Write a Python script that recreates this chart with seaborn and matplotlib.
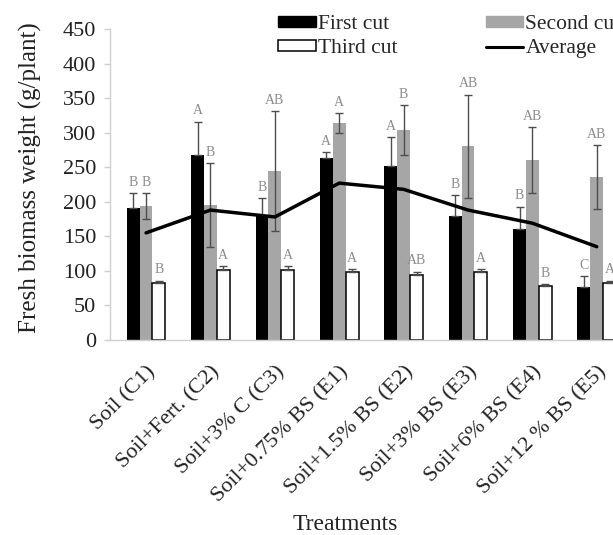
import numpy as np
import pandas as pd
import matplotlib
matplotlib.use("Agg")
import matplotlib.pyplot as plt
from matplotlib.patches import Patch
from matplotlib.lines import Line2D
import seaborn as sns

# Treatments and fresh biomass weight (g/plant) per cut
treatments = ["Soil (C1)", "Soil+Fert. (C2)", "Soil+3% C (C3)", "Soil+0.75% BS (E1)",
              "Soil+1.5% BS (E2)", "Soil+3% BS (E3)", "Soil+6% BS (E4)", "Soil+12 % BS (E5)"]
cuts = ["First cut", "Second cut", "Third cut"]

first_cut = [191, 268, 181, 263, 252, 179, 161, 77]
second_cut = [194, 195, 244, 314, 304, 280, 260, 236]
third_cut = [82, 102, 101, 98, 94, 98, 78, 82]

first_err = [22, 48, 24, 9, 42, 31, 32, 16]
second_err = [19, 61, 87, 14, 36, 75, 48, 46]
third_err = [4, 5, 6, 5, 5, 5, 3, 4]

first_letters = ["B", "A", "B", "A", "A", "B", "B", "C"]
second_letters = ["B", "B", "AB", "A", "B", "AB", "AB", "AB"]
third_letters = ["B", "A", "A", "A", "AB", "A", "B", "A"]

average = [155, 188, 178, 227, 218, 188, 169, 135]

yticks = [0, 50, 100, 150, 200, 250, 300, 350, 400, 450]

sns.set_theme(style="white")
plt.rcParams["font.family"] = ["Liberation Serif", "DejaVu Serif"]

df = pd.DataFrame({
    "Treatment": np.repeat(treatments, 3),
    "Cut": cuts * len(treatments),
    "Weight": np.ravel(np.column_stack([first_cut, second_cut, third_cut])),
})

colors = {"First cut": "#000000", "Second cut": "#a6a6a6", "Third cut": "#ffffff"}

fig = plt.figure(figsize=(6.13, 5.35), dpi=100)
ax = fig.add_axes([110 / 613, 195 / 535, 519 / 613, 311 / 535])

sns.barplot(data=df, x="Treatment", y="Weight", hue="Cut", order=treatments,
            hue_order=cuts, palette=colors, width=0.6, errorbar=None,
            linewidth=0, legend=False, ax=ax)

# outline the white bars
for p in ax.containers[2]:
    p.set_edgecolor("#000000")
    p.set_linewidth(1.1)

series = [(first_cut, first_err, first_letters, False),
          (second_cut, second_err, second_letters, True),
          (third_cut, third_err, third_letters, False)]

for container, (vals, errs, letters, both) in zip(ax.containers, series):
    xs = [p.get_x() + p.get_width() / 2 for p in container]
    lower = errs if both else [0] * len(errs)
    ax.errorbar(xs, vals, yerr=[lower, errs], fmt="none", ecolor="#4d4d4d",
                elinewidth=1.0, capsize=3, capthick=1.0, zorder=3)
    for x, v, e, t in zip(xs, vals, errs, letters):
        ax.annotate(t, (x, v + e), xytext=(0, 3), textcoords="offset points",
                    ha="center", va="bottom", fontsize=10, color="#8c8c8c")

# average line across treatments
ax.plot(np.arange(len(treatments)), average, color="#000000", lw=2.5, zorder=4)

ax.set_xlim(-0.56, 7.5)
ax.set_ylim(0, 450)
ax.set_yticks(yticks)
ax.set_yticklabels([str(t) for t in yticks], fontsize=16, color="#222222")
ax.set_xticks(np.arange(len(treatments)))
ax.set_xticklabels(treatments, rotation=45, ha="right", rotation_mode="anchor",
                   fontsize=16, color="#222222")
ax.tick_params(axis="y", length=4, width=1, color="#d0d0d0", pad=6, left=True)
ax.tick_params(axis="x", length=0, pad=16)
ax.set_xlabel("")
ax.set_ylabel("")
for s in ["top", "right"]:
    ax.spines[s].set_visible(False)
for s in ["left", "bottom"]:
    ax.spines[s].set_color("#d0d0d0")
    ax.spines[s].set_linewidth(1.0)

fig.text(30 / 613, 1 - 178 / 535, "Fresh biomass weight (g/plant)", rotation=90,
         ha="center", va="center", fontsize=18, color="#222222")
fig.text(345 / 613, 1 - 524 / 535, "Treatments", ha="center", va="center",
         fontsize=17, color="#222222")

handles = [Patch(facecolor="#000000", edgecolor="#000000"),
           Patch(facecolor="#ffffff", edgecolor="#000000", linewidth=1.1),
           Patch(facecolor="#a6a6a6", edgecolor="#a6a6a6"),
           Line2D([], [], color="#000000", lw=2.2)]
labels = ["First cut", "Third cut", "Second cut", "Average"]
fig.legend(handles, labels, ncol=2, loc="upper left",
           bbox_to_anchor=(278 / 613, 1 - 15 / 535), frameon=False, fontsize=15.5,
           handlelength=1.75, handleheight=0.4, handletextpad=0.1,
           columnspacing=4.1, labelspacing=0.25, borderpad=0, borderaxespad=0)

fig.savefig("out.png", dpi=100)
